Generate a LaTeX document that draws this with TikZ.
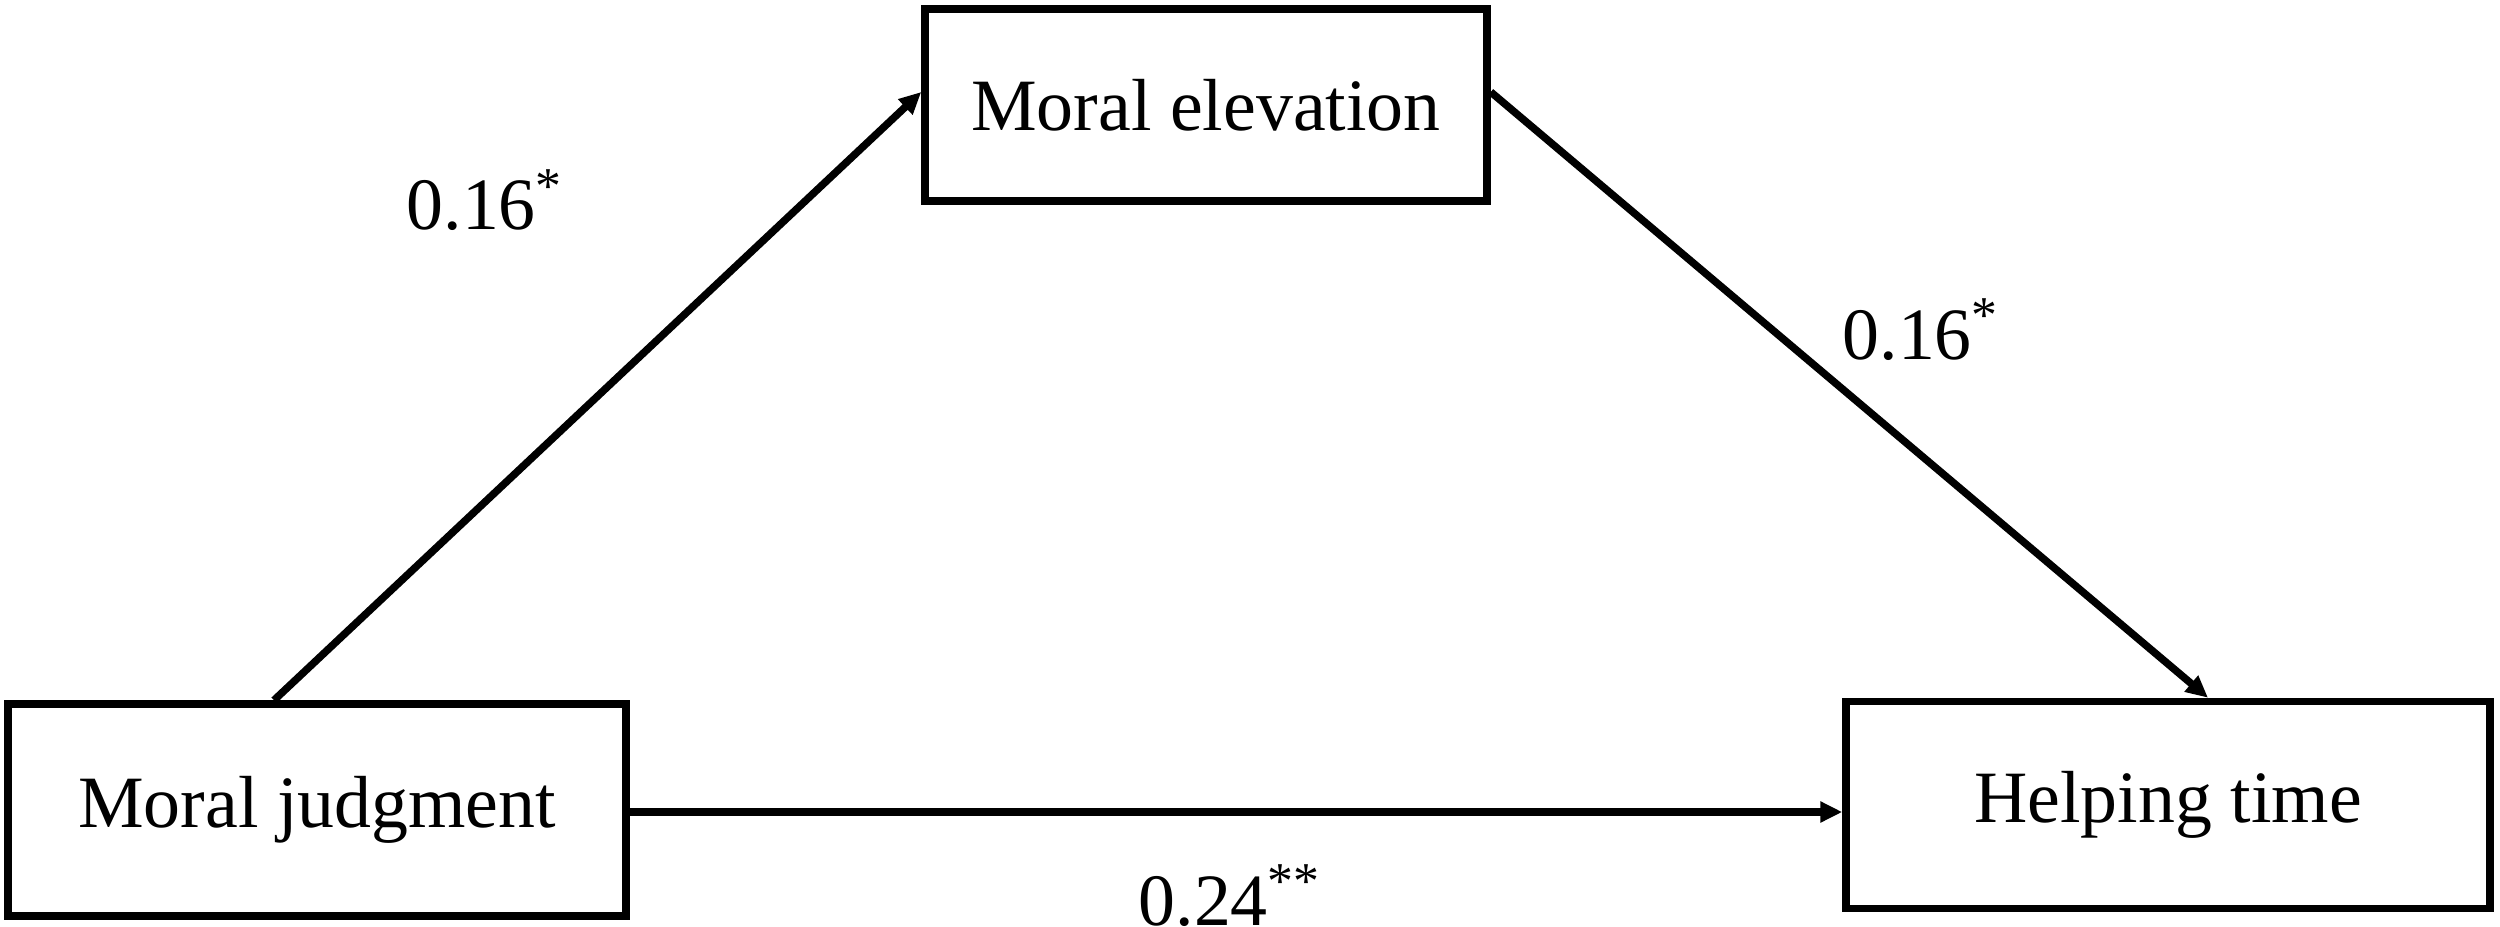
\documentclass[tikz,border=0pt]{standalone}
\usepackage{fontspec}
\setmainfont{Liberation Serif}
\usetikzlibrary{arrows.meta}
\begin{document}
\begin{tikzpicture}[
  box/.style={draw, line width=0.075cm, inner sep=0pt, align=center,
              font=\fontsize{21}{25}\selectfont},
  arr/.style={line width=0.075cm, -{Triangle[length=0.22cm,width=0.2cm]}},
  lbl/.style={inner sep=0pt, anchor=base west, font=\fontsize{21}{25}\selectfont}
]
\fill[white] (0,0) rectangle (25,9.26);
\useasboundingbox (0,0) rectangle (25,9.26);

\node[box, minimum width=5.62cm, minimum height=1.92cm] (elev) at (12.06,8.21) {Moral elevation};
\node[box, minimum width=6.18cm, minimum height=2.12cm] (jud) at (3.17,1.16) {Moral judgment};
\node[box, minimum width=6.44cm, minimum height=2.07cm] (help) at (21.68,1.21) {Helping time};

\draw[arr] ([xshift=-0.43cm]jud.north) -- ([yshift=0.13cm]elev.west);
\draw[arr] ([yshift=0.13cm]elev.east) -- ([xshift=0.40cm]help.north);
\draw[arr] ([yshift=-0.02cm]jud.east) -- ([yshift=-0.02cm]jud.east -| help.west);

\node[lbl] (l1) at (4.06,6.96) {0.16\textsuperscript{*}};
\node[lbl] (l2) at (18.42,5.67) {0.16\textsuperscript{*}};
\node[lbl] (l3) at (11.38,0.01) {0.24\textsuperscript{**}};
\end{tikzpicture}
\end{document}
